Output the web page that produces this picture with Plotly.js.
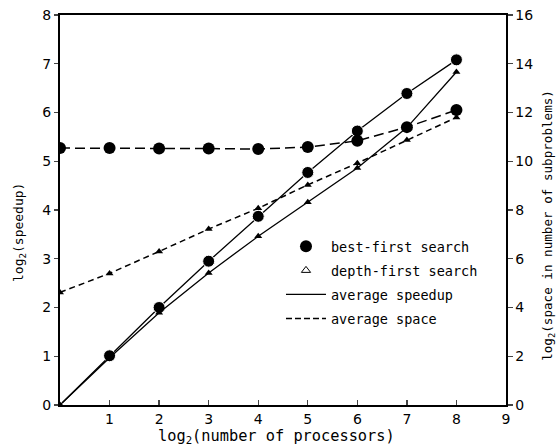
<!DOCTYPE html>
<html>
<head>
<meta charset="utf-8">
<script src="https://cdn.plot.ly/plotly-3.0.1.min.js"></script>
<style>html,body{margin:0;padding:0;background:#fff;}#chart{width:557px;height:448px;}</style>
</head>
<body>
<div id="chart"></div>
<script>
// log2(number of processors)
var processors = [0, 1, 2, 3, 4, 5, 6, 7, 8];
// log2(speedup)
var bestFirstSpeedup  = [0, 1.01, 2.0, 2.95, 3.87, 4.77, 5.62, 6.39, 7.08];
var depthFirstSpeedup = [0, 0.97, 1.89, 2.71, 3.46, 4.16, 4.86, 5.69, 6.83];
// log2(space in number of subproblems)
var bestFirstSpace  = [10.54, 10.54, 10.52, 10.52, 10.5, 10.58, 10.84, 11.4, 12.1];
var depthFirstSpace = [4.62, 5.4, 6.3, 7.22, 8.07, 9.03, 9.92, 10.87, 11.8];
var xTicks = [1, 2, 3, 4, 5, 6, 7, 8, 9];
var yTicks = [0, 1, 2, 3, 4, 5, 6, 7, 8];
var y2Ticks = [0, 2, 4, 6, 8, 10, 12, 14, 16];
var legendLabels = ['best-first search', 'depth-first search', 'average speedup', 'average space'];
var xTitle = 'log<sub>2</sub>(number of processors)';
var yTitle = 'log<sub>2</sub>(speedup)';
var y2Title = 'log<sub>2</sub>(space in number of subproblems)';

var mono = 'DejaVu Sans Mono, monospace';
var sans = 'DejaVu Sans, sans-serif';
var circleSizes = processors.map(function (p, i) { return i === 0 ? 6 : 12; });

var traces = [
  {x: processors, y: bestFirstSpeedup, mode: 'lines+markers', showlegend: false,
   line: {color: '#000', width: 1.3}, marker: {symbol: 'circle', size: circleSizes, color: '#000', opacity: 1}},
  {x: processors, y: depthFirstSpeedup, mode: 'lines+markers', showlegend: false,
   line: {color: '#000', width: 1.3}, marker: {symbol: 'triangle-up', size: 7, color: '#000'}},
  {x: processors, y: bestFirstSpace, yaxis: 'y2', mode: 'lines+markers', showlegend: false,
   line: {color: '#000', width: 1.5, dash: '10px,5px'}, marker: {symbol: 'circle', size: 12, color: '#000'}},
  {x: processors, y: depthFirstSpace, yaxis: 'y2', mode: 'lines+markers', showlegend: false,
   line: {color: '#000', width: 1.5, dash: '6px,4px'}, marker: {symbol: 'triangle-up', size: 7, color: '#000'}},
  // legend-only entries
  {x: [null], y: [null], name: legendLabels[0], mode: 'markers', legendgroup: 'a',
   marker: {symbol: 'circle', size: 12, color: '#000'}},
  {x: [null], y: [null], name: legendLabels[1], mode: 'markers', legendgroup: 'b',
   marker: {symbol: 'triangle-up-open', size: 8, color: '#000', line: {width: 1}}},
  {x: [null], y: [null], name: legendLabels[2], mode: 'lines', legendgroup: 'c',
   line: {color: '#000', width: 1.3}},
  {x: [null], y: [null], name: legendLabels[3], mode: 'lines', legendgroup: 'd',
   line: {color: '#000', width: 1.5, dash: '6px,3px'}}
];

var layout = {
  width: 557, height: 448,
  margin: {l: 60, r: 51, t: 15, b: 43, pad: 0},
  paper_bgcolor: '#fff', plot_bgcolor: '#fff',
  font: {family: sans, color: '#000', size: 14},
  showlegend: true,
  legend: {x: 0.4955, y: 0.446, xanchor: 'left', yanchor: 'top', bgcolor: 'rgba(0,0,0,0)',
           font: {family: mono, size: 13.5, color: '#000'}, traceorder: 'grouped',
           tracegroupgap: 3.5, itemwidth: 40},
  xaxis: {range: [0, 9], tickvals: xTicks, ticks: 'inside', ticklen: 5, tickwidth: 1.3,
          showline: true, linewidth: 2, linecolor: '#000', mirror: true, showgrid: false, zeroline: false,
          tickfont: {family: sans, size: 14}},
  yaxis: {range: [0, 8], tickvals: yTicks, ticks: 'outside', ticklen: 4, tickwidth: 1.3,
          showline: true, linewidth: 2, linecolor: '#000', showgrid: false, zeroline: false,
          tickfont: {family: sans, size: 14}},
  yaxis2: {range: [0, 16], tickvals: y2Ticks, overlaying: 'y', side: 'right', ticks: 'outside', ticklen: 5, tickwidth: 1.3,
           showline: true, linewidth: 1.5, linecolor: '#000', showgrid: false, zeroline: false,
           tickfont: {family: sans, size: 14}},
  annotations: [
    {text: xTitle, xref: 'paper', yref: 'paper', x: 0.4865, y: -0.082, xanchor: 'center', yanchor: 'middle',
     showarrow: false, font: {family: mono, size: 15.3, color: '#000'}},
    {text: yTitle, xref: 'paper', yref: 'paper', x: -0.0897, y: 0.4436, xanchor: 'center', yanchor: 'middle',
     textangle: -90, showarrow: false, font: {family: mono, size: 13, color: '#000'}},
    {text: y2Title, xref: 'paper', yref: 'paper', x: 1.0964, y: 0.462, xanchor: 'center', yanchor: 'middle',
     textangle: -90, showarrow: false, font: {family: mono, size: 12.6, color: '#000'}}
  ]
};

Plotly.newPlot('chart', traces, layout, {displayModeBar: false, staticPlot: true});
</script>
</body>
</html>
